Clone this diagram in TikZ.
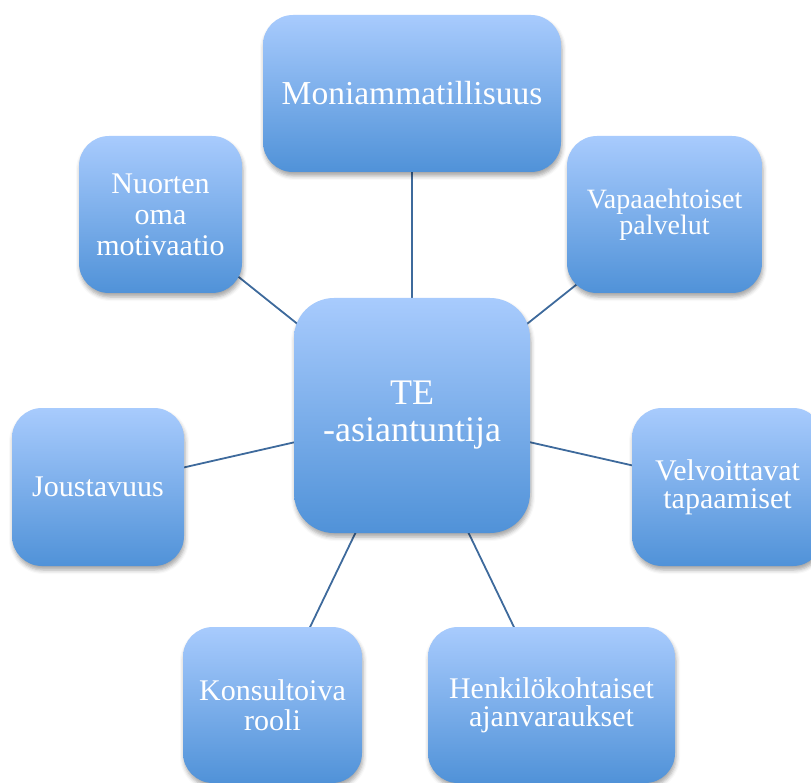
\documentclass[tikz,border=0pt]{standalone}
\usepackage{fontspec}
\setmainfont{Liberation Serif}
\usetikzlibrary{shadows.blur}
\pgfdeclarelayer{background}
\pgfsetlayers{background,main}
\definecolor{boxtop}{RGB}{168,203,253}
\definecolor{boxbot}{RGB}{80,146,216}
\definecolor{linkcol}{RGB}{62,106,156}
\tikzset{
  box/.style={rectangle, rounded corners=30pt, inner sep=0pt, align=center,
    top color=boxtop, bottom color=boxbot, draw=none, text=white,
    blur shadow={shadow xshift=1pt, shadow yshift=-4pt, shadow blur radius=4pt, shadow opacity=35},
    font=\fontsize{30}{30}\selectfont},
  link/.style={draw=linkcol, line width=1.8pt}
}
\begin{document}
\begin{tikzpicture}[x=1pt,y=-1pt]
\useasboundingbox (0,0) rectangle (811,783);
\node[box, minimum width=298pt, minimum height=157pt, font=\fontsize{33.5}{36}\selectfont] (moni) at (412,93.5) {Moniammatillisuus};
\node[box, minimum width=163pt, minimum height=157pt, font=\fontsize{30}{31}\selectfont] (nuor) at (160.5,214.5) {Nuorten\\oma\\motivaatio};
\node[box, minimum width=195pt, minimum height=157pt, font=\fontsize{28}{25}\selectfont] (vapa) at (664.5,214.5) {Vapaaehtoiset\\palvelut};
\node[box, rounded corners=40pt, minimum width=236pt, minimum height=235pt, font=\fontsize{36}{37}\selectfont] (te) at (412,415.5) {TE\\-asiantuntija};
\node[box, minimum width=172pt, minimum height=158pt] (jous) at (98,487) {Joustavuus};
\node[box, minimum width=191pt, minimum height=158pt, font=\fontsize{30}{28}\selectfont] (velv) at (727.5,487) {Velvoittavat\\tapaamiset};
\node[box, minimum width=179pt, minimum height=156pt] (kons) at (272.5,705) {Konsultoiva\\rooli};
\node[box, minimum width=247pt, minimum height=156pt, font=\fontsize{30}{28}\selectfont] (henk) at (551.5,705) {Henkilökohtaiset\\ajanvaraukset};
\begin{pgfonlayer}{background}
\foreach \n in {moni,nuor,vapa,jous,velv,kons,henk}
  \draw[link] (te.center) -- (\n.center);
\end{pgfonlayer}
\end{tikzpicture}
\end{document}
